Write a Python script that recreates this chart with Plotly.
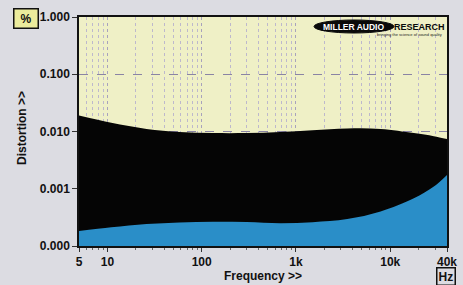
import plotly.graph_objects as go
import numpy as np

freq = [5, 11, 26, 58, 132, 300, 680, 1500, 3500, 7900, 17800, 29000, 40000]
thd_noise = [0.019, 0.0142, 0.0111, 0.0098, 0.0094, 0.0094, 0.0098, 0.0105, 0.0113, 0.0111, 0.0094, 0.0083, 0.0074]
thd_low = [0.000183, 0.000212, 0.000242, 0.000258, 0.000266, 0.000262, 0.00025, 0.00026, 0.000295, 0.0004, 0.00068, 0.00109, 0.00174]
base = [0.0001] * len(freq)

y_ticks = [1, 0.1, 0.01, 0.001, 0.0001]
y_labels = ["1.000", "0.100", "0.010", "0.001", "0.000"]
x_ticks = [5, 10, 100, 1000, 10000, 40000]
x_labels = ["5", "10", "100", "1k", "10k", "40k"]
x_minor = [6, 7, 8, 9, 20, 30, 40, 50, 60, 70, 80, 90, 200, 300, 400, 500, 600, 700, 800, 900,
           2000, 3000, 4000, 5000, 6000, 7000, 8000, 9000, 20000, 30000]

FONT = "Liberation Sans"
INK = "#111111"
PAPER = "#dcdce2"

fig = go.Figure()
fig.add_trace(go.Scatter(x=freq, y=base, mode="lines", line=dict(width=0), hoverinfo="skip", showlegend=False))
fig.add_trace(go.Scatter(x=freq, y=thd_noise, mode="lines", line=dict(width=0, shape="spline", color="#050505"),
                         fill="tonexty", fillcolor="#050505", showlegend=False))
fig.add_trace(go.Scatter(x=freq, y=base, mode="lines", line=dict(width=0), hoverinfo="skip", showlegend=False))
fig.add_trace(go.Scatter(x=freq, y=thd_low, mode="lines", line=dict(width=0, shape="spline", color="#2a8ec8"),
                         fill="tonexty", fillcolor="#2a8ec8", showlegend=False))

fig.update_layout(
    width=463, height=285,
    margin=dict(l=79, r=16, t=17, b=39, autoexpand=False),
    paper_bgcolor=PAPER,
    plot_bgcolor="#eff0c6",
    font=dict(family=FONT, size=12, color=INK),
    showlegend=False,
)
fig.update_xaxes(
    type="log", range=[np.log10(5), np.log10(40000)], automargin=False,
    tickvals=x_ticks, ticktext=["<b>%s</b>" % t for t in x_labels],
    tickfont=dict(family=FONT, size=12, color=INK),
    ticks="outside", ticklen=4, tickcolor="#333",
    showgrid=True, gridcolor="#a8a2bc", griddash="dot", gridwidth=1,
    minor=dict(tickmode="array", tickvals=x_minor, ticks="outside", ticklen=2, tickcolor="#666",
               showgrid=True, gridcolor="#bdb8cc", griddash="dot", gridwidth=1),
    showline=True, linecolor=INK, linewidth=1.5, mirror=True,
)
fig.update_yaxes(
    type="log", range=[-4, 0], automargin=False,
    tickvals=y_ticks, ticktext=["<b>%s</b>" % t for t in y_labels],
    tickfont=dict(family=FONT, size=12, color=INK),
    ticks="outside", ticklen=5, tickcolor="#333",
    showgrid=True, gridcolor="#8a84a4", griddash="dash", gridwidth=1,
    showline=True, linecolor=INK, linewidth=1.5, mirror=True,
)


def px(x):
    return (x - 79) / 368


def py(y):
    return 1 - (y - 17) / 229


def note(x, y, text, **kw):
    kw.setdefault("xanchor", "center")
    kw.setdefault("yanchor", "middle")
    fig.add_annotation(xref="paper", yref="paper", x=px(x), y=py(y), text=text, showarrow=False, **kw)


# axis titles
note(22, 128, "<b>Distortion >></b>", textangle=-90, font=dict(family=FONT, size=12, color=INK))
note(263, 276, "<b>Frequency >></b>", font=dict(family=FONT, size=12, color=INK))

# logo
fig.add_shape(type="circle", xref="paper", yref="paper",
              x0=px(314), x1=px(394), y0=py(33), y1=py(20),
              fillcolor="#0a0a0a", line=dict(color="#0a0a0a", width=1))
note(353, 26.5, "<b>MILLER AUDIO</b>", font=dict(family=FONT, size=8.5, color="white"))
note(393, 26.5, "<b>RESEARCH</b>", xanchor="left", borderpad=0, font=dict(family=FONT, size=9, color="#0a0a0a"))
note(444, 35, "bringing the science of sound quality", xanchor="right", font=dict(family=FONT, size=4, color="#222"))

# unit boxes
note(25.5, 18.5, "<b>%</b>", font=dict(family=FONT, size=12, color=INK), bordercolor=INK, borderwidth=1.5,
     bgcolor="#ecec9c", borderpad=2, width=19)
note(446, 276, "<b>Hz</b>", font=dict(family=FONT, size=12, color=INK), bordercolor=INK, borderwidth=1.5,
     bgcolor=PAPER, borderpad=1)

fig.write_html("out.html", config={"displayModeBar": False},
               post_script="document.body.style.margin='0';document.body.style.background='%s';" % PAPER)
